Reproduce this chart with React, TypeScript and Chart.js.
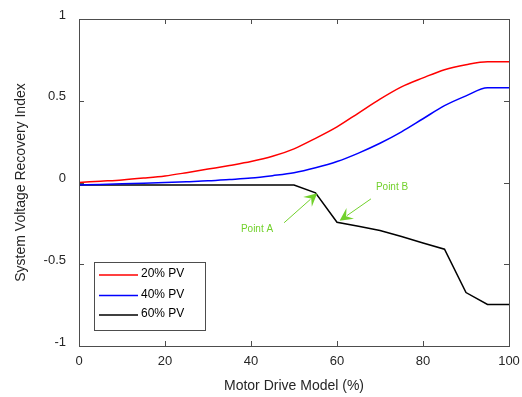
import React, { useEffect, useRef } from "react";
import { Chart, registerables } from "chart.js";

Chart.register(...registerables);

const xValues = [0, 5, 10, 15, 20, 25, 30, 35, 40, 45, 50, 55, 60, 65, 70, 75, 80, 85, 90, 95, 100];
const pv20 = [0.0, 0.008, 0.016, 0.027, 0.04, 0.06, 0.082, 0.104, 0.128, 0.16, 0.206, 0.27, 0.34, 0.425, 0.51, 0.585, 0.64, 0.69, 0.72, 0.738, 0.738];
const pv40 = [-0.015, -0.012, -0.008, -0.004, 0.0, 0.005, 0.01, 0.018, 0.027, 0.042, 0.06, 0.09, 0.128, 0.18, 0.24, 0.31, 0.39, 0.47, 0.53, 0.58, 0.58];
const pv60 = [-0.016, -0.016, -0.016, -0.016, -0.016, -0.016, -0.016, -0.016, -0.016, -0.016, -0.016, -0.063, -0.243, -0.268, -0.293, -0.33, -0.37, -0.408, -0.673, -0.746, -0.746];
const seriesNames = ["20% PV", "40% PV", "60% PV"];
const seriesColors = ["#ff0000", "#0000ff", "#000000"];
const xTicks = [0, 20, 40, 60, 80, 100];
const yTicks = [-1, -0.5, 0, 0.5, 1];
const annotations = [
  { label: "Point A", textX: 41.4, textY: -0.283, tailX: 47.7, tailY: -0.246, tipX: 55.4, tipY: -0.066 },
  { label: "Point B", textX: 72.8, textY: -0.026, tailX: 67.9, tailY: -0.1, tipX: 60.6, tipY: -0.234 },
];

const FONT = "'Liberation Sans', Arial, Helvetica, sans-serif";
const AXIS_COLOR = "#4d4d4d";
const GREEN = "#72d12c";

const framePlugin = {
  id: "frame",
  afterDatasetsDraw(chart: any) {
    const { ctx, chartArea: a, scales } = chart;
    const xs = scales.x;
    const ys = scales.y;
    ctx.save();
    ctx.strokeStyle = AXIS_COLOR;
    ctx.lineWidth = 1;
    ctx.strokeRect(a.left + 0.5, a.top + 0.5, a.right - a.left, a.bottom - a.top);
    const tl = 5;
    ctx.beginPath();
    xTicks.forEach((v) => {
      const px = Math.round(xs.getPixelForValue(v)) + 0.5;
      ctx.moveTo(px, a.bottom);
      ctx.lineTo(px, a.bottom - tl);
      ctx.moveTo(px, a.top);
      ctx.lineTo(px, a.top + tl);
    });
    yTicks.forEach((v) => {
      const py = Math.round(ys.getPixelForValue(v)) + 0.5;
      ctx.moveTo(a.left, py);
      ctx.lineTo(a.left + tl, py);
      ctx.moveTo(a.right, py);
      ctx.lineTo(a.right - tl, py);
    });
    ctx.stroke();

    ctx.fillStyle = "#262626";
    ctx.font = `14px ${FONT}`;
    ctx.textAlign = "center";
    ctx.textBaseline = "middle";
    ctx.fillText("Motor Drive Model (%)", (a.left + a.right) / 2, 386);
    ctx.save();
    ctx.translate(21, (a.top + a.bottom) / 2);
    ctx.rotate(-Math.PI / 2);
    ctx.fillText("System Voltage Recovery Index", 0, 0);
    ctx.restore();

    annotations.forEach((an) => {
      const tx = xs.getPixelForValue(an.textX);
      const ty = ys.getPixelForValue(an.textY);
      ctx.fillStyle = GREEN;
      ctx.font = `10px ${FONT}`;
      ctx.textAlign = "center";
      ctx.textBaseline = "middle";
      ctx.fillText(an.label, tx, ty);
      const x1 = xs.getPixelForValue(an.tailX);
      const y1 = ys.getPixelForValue(an.tailY);
      const x2 = xs.getPixelForValue(an.tipX);
      const y2 = ys.getPixelForValue(an.tipY);
      const ang = Math.atan2(y2 - y1, x2 - x1);
      const headLen = 13;
      const headW = 6.5;
      const bx = x2 - headLen * Math.cos(ang);
      const by = y2 - headLen * Math.sin(ang);
      ctx.strokeStyle = GREEN;
      ctx.lineWidth = 1;
      ctx.beginPath();
      ctx.moveTo(x1, y1);
      ctx.lineTo(bx + 4 * Math.cos(ang), by + 4 * Math.sin(ang));
      ctx.stroke();
      const nx = -Math.sin(ang);
      const ny = Math.cos(ang);
      const nxp = x2 - (headLen - 5) * Math.cos(ang);
      const nyp = y2 - (headLen - 5) * Math.sin(ang);
      ctx.beginPath();
      ctx.moveTo(x2, y2);
      ctx.lineTo(bx + nx * headW, by + ny * headW);
      ctx.lineTo(nxp, nyp);
      ctx.lineTo(bx - nx * headW, by - ny * headW);
      ctx.closePath();
      ctx.fill();
    });

    const lx = 94.5;
    const ly = 262.5;
    const lw = 111;
    const lh = 68;
    ctx.fillStyle = "#ffffff";
    ctx.fillRect(lx, ly, lw, lh);
    ctx.strokeStyle = AXIS_COLOR;
    ctx.lineWidth = 1;
    ctx.strokeRect(lx, ly, lw, lh);
    const rows = [275, 295.5, 315];
    seriesNames.forEach((name, i) => {
      ctx.strokeStyle = seriesColors[i];
      ctx.lineWidth = 1.5;
      ctx.beginPath();
      ctx.moveTo(99, rows[i]);
      ctx.lineTo(138, rows[i]);
      ctx.stroke();
      ctx.fillStyle = "#000000";
      ctx.font = `12px ${FONT}`;
      ctx.textAlign = "left";
      ctx.textBaseline = "middle";
      ctx.fillText(name, 141, rows[i] - 1);
    });
    ctx.restore();
  },
};

export default function App() {
  const ref = useRef<HTMLCanvasElement | null>(null);
  useEffect(() => {
    if (!ref.current) return;
    const chart = new Chart(ref.current, {
      type: "line",
      data: {
        datasets: [pv20, pv40, pv60].map((arr, i) => ({
          label: seriesNames[i],
          data: xValues.map((x, j) => ({ x, y: arr[j] })),
          borderColor: seriesColors[i],
          backgroundColor: seriesColors[i],
          borderWidth: 1.5,
          pointRadius: 0,
          cubicInterpolationMode: i < 2 ? "monotone" : "default",
          tension: 0,
          fill: false,
        })),
      },
      options: {
        responsive: false,
        animation: false,
        layout: { padding: { top: 19, right: 13, left: 0, bottom: 0 } },
        plugins: { legend: { display: false }, tooltip: { enabled: false } },
        scales: {
          x: {
            type: "linear",
            min: 0,
            max: 100,
            afterBuildTicks: (s: any) => { s.ticks = xTicks.map((v) => ({ value: v })); },
            afterFit: (s: any) => { s.height = 51; s.paddingLeft = 0; s.paddingRight = 0; },
            grid: { display: false, drawTicks: false },
            border: { display: false },
            ticks: { color: "#262626", font: { family: FONT, size: 13 }, padding: 8, maxRotation: 0, callback: (v: any) => String(v) },
          },
          y: {
            type: "linear",
            min: -1,
            max: 1,
            afterBuildTicks: (s: any) => { s.ticks = yTicks.map((v) => ({ value: v })); },
            afterFit: (s: any) => { s.width = 79; s.paddingTop = 0; s.paddingBottom = 0; },
            grid: { display: false, drawTicks: false },
            border: { display: false },
            ticks: { color: "#262626", font: { family: FONT, size: 13 }, padding: 13, labelOffset: -4, callback: (v: any) => String(v) },
          },
        },
      },
      plugins: [framePlugin],
    } as any);
    return () => chart.destroy();
  }, []);
  return (
    <div style={{ position: "absolute", left: 0, top: 0, width: 522, height: 397, background: "#fff" }}>
      <canvas ref={ref} width={522} height={397} style={{ display: "block" }} />
    </div>
  );
}
